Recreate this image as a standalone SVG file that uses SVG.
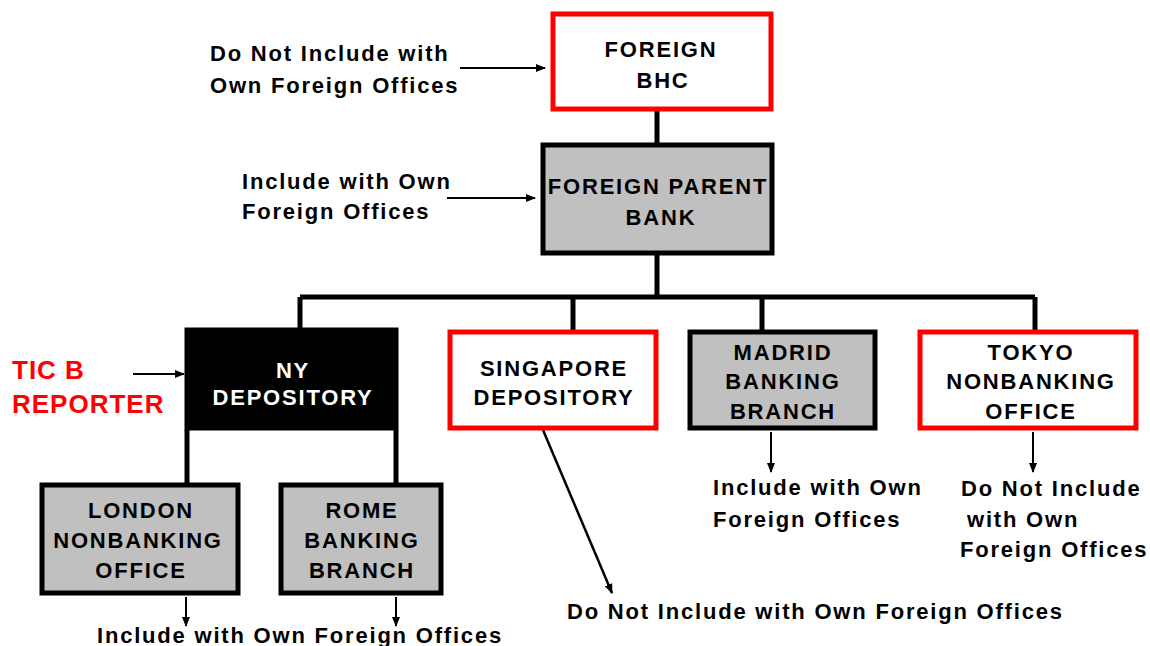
<svg xmlns="http://www.w3.org/2000/svg" width="1150" height="646" viewBox="0 0 1150 646">
<defs>
<marker id="ah" markerWidth="10" markerHeight="10" refX="9" refY="5" orient="auto" markerUnits="userSpaceOnUse">
<path d="M0,1 L10,5 L0,9 Z" fill="#000"/>
</marker>
<style>
.t{font-family:"Liberation Sans",Arial,sans-serif;font-weight:bold;font-size:22px;fill:#000;letter-spacing:1.8px;}
.c{text-anchor:middle;}
.red{fill:#fff;stroke:#f00;stroke-width:5;}
.gray{fill:#c0c0c0;stroke:#000;stroke-width:5;}
.blk{fill:#000;stroke:#000;stroke-width:5;}
.ln{stroke:#000;stroke-width:5;fill:none;}
.ar{stroke:#000;stroke-width:2;fill:none;marker-end:url(#ah);}
.w{fill:#fff;}
.rt{fill:#f00;font-size:26px;letter-spacing:1px;}
</style>
</defs>
<rect width="1150" height="646" fill="#fff"/>
<g id="connectors">
<path class="ln" d="M657,110 V143 M657,255 V297 M300,297 H1035 M300,297 V328 M573,297 V330 M762,297 V330 M1035,297 V330 M187,430 V483 M396,430 V483"/>
<path class="ar" d="M460,68 H545"/>
<path class="ar" d="M447,198 H535"/>
<path class="ar" d="M133,374 H184"/>
<path class="ar" style="stroke-width:2.5" d="M543,430 L612,593"/>
<path class="ar" d="M771,432 V472"/>
<path class="ar" d="M1033,432 V472"/>
<path class="ar" d="M186,597 V626"/>
<path class="ar" d="M396,597 V626"/>
</g>
<g id="bhc">
<rect class="red" x="553" y="14" width="218" height="95"/>
<text class="t c" x="661" y="57">FOREIGN</text>
<text class="t c" x="663" y="88">BHC</text>
</g>
<g id="parent">
<rect class="gray" x="543" y="145" width="229" height="108"/>
<text class="t c" x="658" y="194">FOREIGN PARENT</text>
<text class="t c" x="661" y="225">BANK</text>
</g>
<g id="ny">
<rect class="blk" x="187" y="330" width="209" height="98"/>
<text class="t c w" x="293" y="378">NY</text>
<text class="t c w" x="293" y="405">DEPOSITORY</text>
</g>
<g id="singapore">
<rect class="red" x="450" y="332" width="206" height="96"/>
<text class="t c" x="554" y="376">SINGAPORE</text>
<text class="t c" x="554" y="405">DEPOSITORY</text>
</g>
<g id="madrid">
<rect class="gray" x="690" y="332" width="185" height="96"/>
<text class="t c" x="783" y="360">MADRID</text>
<text class="t c" x="783" y="389">BANKING</text>
<text class="t c" x="783" y="419">BRANCH</text>
</g>
<g id="tokyo">
<rect class="red" x="920" y="332" width="216" height="96"/>
<text class="t c" x="1031" y="360">TOKYO</text>
<text class="t c" x="1031" y="389">NONBANKING</text>
<text class="t c" x="1031" y="419">OFFICE</text>
</g>
<g id="london">
<rect class="gray" x="42" y="485" width="196" height="108"/>
<text class="t c" x="141" y="518">LONDON</text>
<text class="t c" x="138" y="548">NONBANKING</text>
<text class="t c" x="141" y="578">OFFICE</text>
</g>
<g id="rome">
<rect class="gray" x="281" y="485" width="160" height="108"/>
<text class="t c" x="362" y="518">ROME</text>
<text class="t c" x="362" y="548">BANKING</text>
<text class="t c" x="362" y="578">BRANCH</text>
</g>
<g id="labels">
<text class="t" x="210" y="61">Do Not Include with</text>
<text class="t" x="210" y="93">Own Foreign Offices</text>
<text class="t" x="242" y="189">Include with Own</text>
<text class="t" x="242" y="219">Foreign Offices</text>
<text class="t rt" x="12" y="379">TIC B</text>
<text class="t rt" x="12" y="413">REPORTER</text>
<text class="t" x="713" y="495">Include with Own</text>
<text class="t" x="713" y="527">Foreign Offices</text>
<text class="t" x="961" y="496">Do Not Include</text>
<text class="t" x="967" y="527">with Own</text>
<text class="t" x="960" y="557">Foreign Offices</text>
<text class="t" x="567" y="619">Do Not Include with Own Foreign Offices</text>
<text class="t" x="97" y="643">Include with Own Foreign Offices</text>
</g>
</svg>
